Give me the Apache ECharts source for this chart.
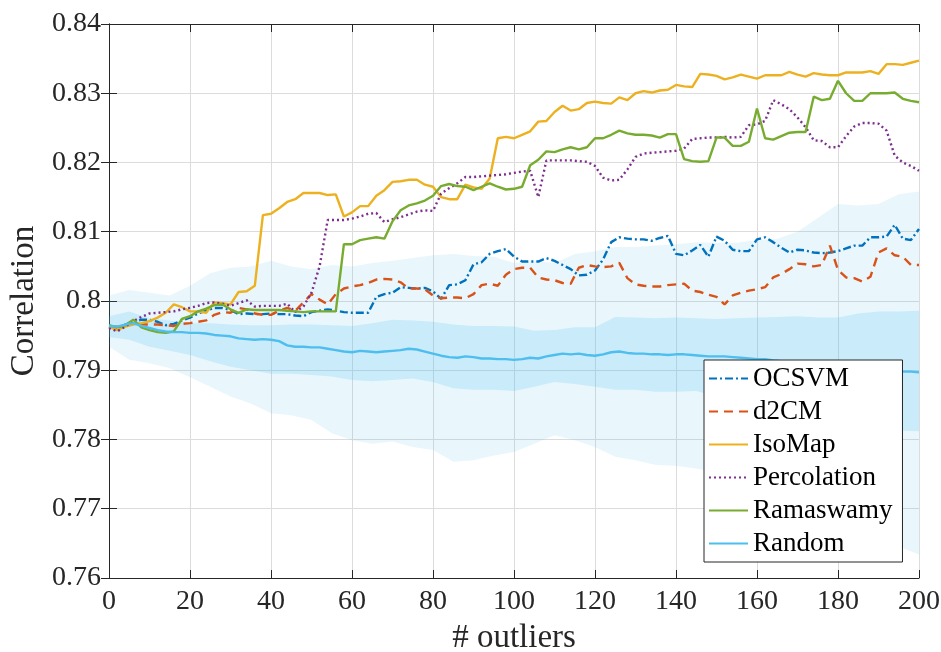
<!DOCTYPE html>
<html>
<head>
<meta charset="utf-8">
<script src="https://cdn.jsdelivr.net/npm/echarts@6/dist/echarts.min.js"></script>
<style>html,body{margin:0;padding:0;background:#fff}#c{width:941px;height:652px}</style>
</head>
<body>
<div id="c"></div>
<script>
// x positions (number of outliers) for the method curves
const xs = [];
for (let i = 0; i <= 200; i += 2) xs.push(i);

const ocsvm = [0.7963,0.7960,0.7966,0.7970,0.7973,0.7973,0.7970,0.7965,0.7967,0.7972,0.7976,0.7982,0.7986,0.7990,0.7990,0.7987,0.7981,0.7982,0.7981,0.7981,0.7982,0.7981,0.7981,0.7979,0.7978,0.7984,0.7986,0.7988,0.7986,0.7984,0.7983,0.7983,0.7983,0.8006,0.8010,0.8012,0.8020,0.8019,0.8018,0.8019,0.8014,0.8003,0.8023,0.8024,0.8030,0.8053,0.8056,0.8068,0.8072,0.8075,0.8064,0.8057,0.8057,0.8057,0.8062,0.8058,0.8052,0.8046,0.8037,0.8038,0.8044,0.8060,0.8085,0.8092,0.8090,0.8089,0.8089,0.8087,0.8091,0.8094,0.8068,0.8066,0.8073,0.8081,0.8064,0.8093,0.8087,0.8074,0.8072,0.8072,0.8089,0.8092,0.8085,0.8077,0.8070,0.8074,0.8073,0.8070,0.8069,0.8070,0.8072,0.8076,0.8080,0.8080,0.8092,0.8092,0.8093,0.8110,0.8090,0.8088,0.8104];

const d2cm = [0.7963,0.7963,0.7965,0.7966,0.7966,0.7966,0.7966,0.7965,0.7964,0.7967,0.7968,0.7970,0.7972,0.7980,0.7984,0.7983,0.7990,0.7988,0.7982,0.7980,0.7980,0.7986,0.7990,0.7986,0.7998,0.8010,0.8002,0.7995,0.8010,0.8018,0.8021,0.8023,0.8026,0.8031,0.8032,0.8031,0.8027,0.8018,0.8018,0.8017,0.8008,0.8004,0.8005,0.8005,0.8004,0.8010,0.8023,0.8025,0.8022,0.8038,0.8046,0.8048,0.8048,0.8034,0.8031,0.8030,0.8026,0.8025,0.8048,0.8052,0.8050,0.8049,0.8050,0.8055,0.8033,0.8024,0.8022,0.8021,0.8021,0.8023,0.8024,0.8025,0.8015,0.8013,0.8009,0.8006,0.7995,0.8008,0.8012,0.8015,0.8017,0.8020,0.8034,0.8039,0.8046,0.8054,0.8053,0.8050,0.8052,0.8080,0.8045,0.8034,0.8033,0.8028,0.8035,0.8070,0.8076,0.8066,0.8064,0.8052,0.8052];

const isomap = [0.7963,0.7958,0.7963,0.7966,0.7968,0.7971,0.7976,0.7983,0.7995,0.7991,0.7985,0.7985,0.7983,0.7998,0.7997,0.7995,0.8013,0.8014,0.8022,0.8124,0.8126,0.8134,0.8143,0.8147,0.8156,0.8156,0.8156,0.8153,0.8154,0.8122,0.8128,0.8137,0.8137,0.8152,0.8160,0.8172,0.8173,0.8175,0.8175,0.8168,0.8165,0.8150,0.8147,0.8147,0.8168,0.8164,0.8162,0.8177,0.8235,0.8237,0.8235,0.8240,0.8245,0.8259,0.8260,0.8273,0.8282,0.8275,0.8277,0.8286,0.8288,0.8286,0.8285,0.8294,0.8290,0.8300,0.8303,0.8301,0.8304,0.8305,0.8312,0.8310,0.8309,0.8328,0.8327,0.8325,0.8320,0.8323,0.8327,0.8324,0.8321,0.8326,0.8326,0.8326,0.8331,0.8327,0.8324,0.8329,0.8327,0.8326,0.8326,0.8330,0.8330,0.8330,0.8332,0.8328,0.8342,0.8342,0.8341,0.8344,0.8347];

const percolation = [0.7961,0.7956,0.7963,0.7971,0.7977,0.7982,0.7983,0.7984,0.7985,0.7988,0.7990,0.7993,0.7997,0.7998,0.7996,0.7993,0.7997,0.8001,0.7992,0.7993,0.7993,0.7993,0.7996,0.7984,0.7992,0.8012,0.8050,0.8117,0.8117,0.8117,0.8119,0.8122,0.8126,0.8127,0.8114,0.8118,0.8121,0.8125,0.8129,0.8131,0.8130,0.8155,0.8163,0.8170,0.8179,0.8179,0.8180,0.8181,0.8182,0.8183,0.8185,0.8187,0.8188,0.8150,0.8203,0.8203,0.8203,0.8203,0.8202,0.8201,0.8195,0.8178,0.8174,0.8175,0.8190,0.8208,0.8213,0.8214,0.8215,0.8216,0.8217,0.8220,0.8234,0.8235,0.8236,0.8236,0.8237,0.8236,0.8237,0.8254,0.8255,0.8260,0.8290,0.8284,0.8277,0.8265,0.8251,0.8232,0.8231,0.8222,0.8222,0.8238,0.8252,0.8257,0.8257,0.8256,0.8246,0.8210,0.8200,0.8195,0.8188];

const ramaswamy = [0.7965,0.7962,0.7965,0.7973,0.7962,0.7958,0.7955,0.7954,0.7956,0.7974,0.7978,0.7985,0.7989,0.7994,0.7995,0.7988,0.7983,0.7988,0.7987,0.7987,0.7987,0.7987,0.7986,0.7985,0.7984,0.7985,0.7985,0.7985,0.7985,0.8082,0.8082,0.8088,0.8090,0.8092,0.8090,0.8115,0.8131,0.8138,0.8141,0.8145,0.8152,0.8166,0.8169,0.8166,0.8165,0.8160,0.8165,0.8170,0.8165,0.8161,0.8162,0.8165,0.8196,0.8204,0.8216,0.8215,0.8219,0.8222,0.8219,0.8222,0.8235,0.8235,0.8240,0.8246,0.8242,0.8240,0.8240,0.8239,0.8236,0.8241,0.8241,0.8205,0.8202,0.8201,0.8202,0.8236,0.8236,0.8224,0.8224,0.8230,0.8278,0.8235,0.8233,0.8238,0.8243,0.8244,0.8244,0.8295,0.8290,0.8292,0.8318,0.8300,0.8289,0.8289,0.8300,0.8300,0.8300,0.8301,0.8292,0.8289,0.8287];

const randomMean = [0.7964,0.7963,0.7966,0.7968,0.7964,0.7961,0.7958,0.7956,0.7955,0.7955,0.7954,0.7954,0.7953,0.7951,0.7950,0.7949,0.7946,0.7945,0.7944,0.7945,0.7944,0.7942,0.7936,0.7934,0.7934,0.7933,0.7933,0.7931,0.7929,0.7927,0.7926,0.7928,0.7927,0.7926,0.7927,0.7928,0.7929,0.7931,0.7930,0.7927,0.7924,0.7921,0.7919,0.7918,0.7920,0.7919,0.7917,0.7917,0.7916,0.7916,0.7915,0.7916,0.7918,0.7917,0.7920,0.7922,0.7924,0.7923,0.7924,0.7922,0.7921,0.7923,0.7926,0.7927,0.7925,0.7924,0.7924,0.7923,0.7923,0.7922,0.7923,0.7923,0.7922,0.7921,0.7920,0.7920,0.7920,0.7919,0.7918,0.7917,0.7916,0.7916,0.7914,0.7913,0.7912,0.7911,0.7910,0.7909,0.7908,0.7907,0.7906,0.7905,0.7904,0.7903,0.7902,0.7901,0.7900,0.7899,0.7898,0.7898,0.7897];

// x positions for the Random spread bands
const bandX = [];
for (let i = 0; i <= 200; i += 5) bandX.push(i);
const outerUpper = [0.8008,0.8016,0.8012,0.8008,0.8022,0.8040,0.8048,0.8050,0.8058,0.8050,0.8046,0.8052,0.8050,0.8055,0.8058,0.8062,0.8066,0.8068,0.8065,0.8064,0.8055,0.8058,0.8055,0.8068,0.8072,0.8078,0.8078,0.8080,0.8082,0.8085,0.8084,0.8084,0.8088,0.8090,0.8100,0.8120,0.8140,0.8138,0.8140,0.8154,0.8158];
const outerLower = [0.7934,0.7915,0.7910,0.7903,0.7890,0.7876,0.7862,0.7852,0.7838,0.7835,0.7828,0.7809,0.7799,0.7794,0.7797,0.7789,0.7785,0.7768,0.7770,0.7777,0.7782,0.7794,0.7806,0.7799,0.7789,0.7775,0.7770,0.7763,0.7762,0.7758,0.7752,0.7742,0.7730,0.7715,0.7700,0.7688,0.7675,0.7665,0.7655,0.7645,0.7634];
const innerUpper = [0.7978,0.7985,0.7975,0.7972,0.7968,0.7968,0.7966,0.7965,0.7965,0.7966,0.7966,0.7965,0.7964,0.7968,0.7973,0.7972,0.7970,0.7966,0.7964,0.7964,0.7963,0.7957,0.7958,0.7962,0.7962,0.7977,0.7976,0.7975,0.7976,0.7975,0.7974,0.7975,0.7976,0.7977,0.7978,0.7976,0.7976,0.7982,0.7985,0.7985,0.7986];
const innerLower = [0.7948,0.7944,0.7934,0.7928,0.7922,0.7913,0.7905,0.7900,0.7895,0.7895,0.7893,0.7891,0.7886,0.7884,0.7886,0.7888,0.7883,0.7874,0.7872,0.7872,0.7870,0.7876,0.7883,0.7880,0.7876,0.7872,0.7872,0.7869,0.7869,0.7870,0.7862,0.7852,0.7845,0.7838,0.7832,0.7826,0.7822,0.7818,0.7815,0.7813,0.7812];

const names = ['OCSVM','d2CM','IsoMap','Percolation','Ramaswamy','Random'];
const colors = ['#0072BD','#D95319','#EDB120','#7E2F8E','#77AC30','#4DBEEE'];
const dashes = [[8,3,2,3],[9,6],'solid',[2,3],'solid','solid'];
const values = [ocsvm, d2cm, isomap, percolation, ramaswamy, randomMean];

const serif = "'Liberation Serif', 'DejaVu Serif', serif";
const ink = '#262626';

function band(upper, lower, fill) {
  return {
    type: 'custom', silent: true, z: 1, clip: true,
    data: bandX.map((x, i) => [x, upper[i], lower[i]]),
    encode: {x: 0, y: [1, 2]},
    renderItem: function (params, api) {
      if (params.dataIndex !== 0) return null;
      const pts = [];
      for (let i = 0; i < bandX.length; i++) pts.push(api.coord([bandX[i], upper[i]]));
      for (let i = bandX.length - 1; i >= 0; i--) pts.push(api.coord([bandX[i], lower[i]]));
      return {type: 'polygon', shape: {points: pts}, style: {fill: fill}};
    }
  };
}

const series = [
  band(outerUpper, outerLower, 'rgba(77,190,238,0.12)'),
  band(innerUpper, innerLower, 'rgba(77,190,238,0.20)')
];
names.forEach((n, k) => {
  series.push({
    name: n, type: 'line', symbol: 'none', z: 3,
    data: xs.map((x, i) => [x, values[k][i]]),
    lineStyle: {color: colors[k], width: 2.4, type: dashes[k]},
    itemStyle: {color: colors[k]}
  });
});

const fmtY = v => parseFloat(v.toFixed(2)).toString();

const chart = echarts.init(document.getElementById('c'), null, {renderer: 'canvas'});
chart.setOption({
  animation: false,
  backgroundColor: '#fff',
  grid: {left: 109, right: 22, top: 24, bottom: 74, containLabel: false, outerBoundsMode: 'none'},
  xAxis: [{
    type: 'value', min: 0, max: 200, interval: 20, position: 'bottom',
    name: '# outliers', nameLocation: 'middle', nameGap: 44,
    nameTextStyle: {fontFamily: serif, fontSize: 33, color: ink},
    axisLine: {show: true, lineStyle: {color: ink, width: 1}},
    axisTick: {show: true, inside: true, length: 8, lineStyle: {color: ink}},
    axisLabel: {fontFamily: serif, fontSize: 28, color: ink, margin: 10},
    splitLine: {show: true, lineStyle: {color: '#dcdcdc', width: 1}}
  }, {
    type: 'value', min: 0, max: 200, interval: 20, position: 'top',
    axisLine: {show: true, lineStyle: {color: ink, width: 1}},
    axisTick: {show: true, inside: true, length: 8, lineStyle: {color: ink}},
    axisLabel: {show: false}, splitLine: {show: false}
  }],
  yAxis: [{
    type: 'value', min: 0.76, max: 0.84, interval: 0.01, position: 'left',
    name: 'Correlation', nameLocation: 'middle', nameGap: 68,
    nameTextStyle: {fontFamily: serif, fontSize: 33, color: ink},
    axisLine: {show: true, lineStyle: {color: ink, width: 1}},
    axisTick: {show: true, inside: true, length: 8, lineStyle: {color: ink}},
    axisLabel: {fontFamily: serif, fontSize: 28, color: ink, margin: 8, formatter: fmtY},
    splitLine: {show: true, lineStyle: {color: '#dcdcdc', width: 1}}
  }, {
    type: 'value', min: 0.76, max: 0.84, interval: 0.01, position: 'right',
    axisLine: {show: true, lineStyle: {color: ink, width: 1}},
    axisTick: {show: true, inside: true, length: 8, lineStyle: {color: ink}},
    axisLabel: {show: false}, splitLine: {show: false}
  }],
  legend: {
    data: names, orient: 'vertical', left: 704, top: 360,
    backgroundColor: '#fff', borderColor: ink, borderWidth: 1,
    padding: [5, 10, 5, 4], itemGap: 6, itemWidth: 39, itemHeight: 12,
    itemStyle: {opacity: 0},
    textStyle: {fontFamily: serif, fontSize: 27, color: '#000'},
    selectedMode: false
  },
  series: series
});
</script>
</body>
</html>
